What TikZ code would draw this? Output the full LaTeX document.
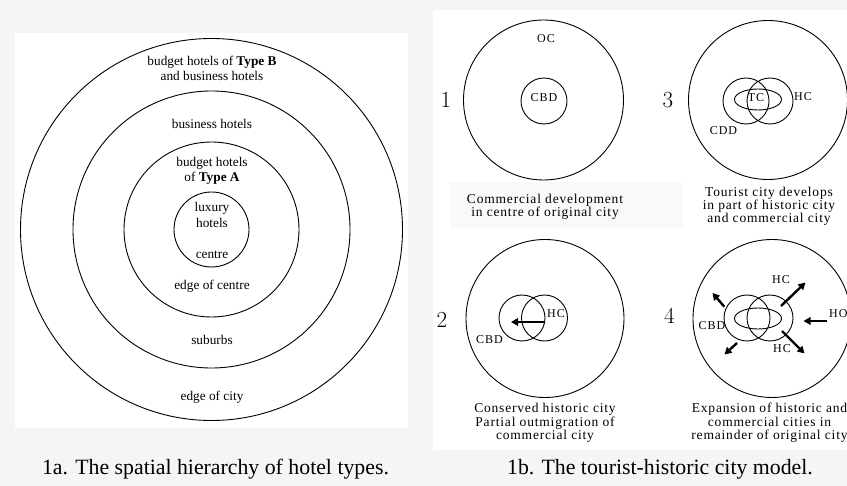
\documentclass[tikz,border=0pt]{standalone}
\usepackage{fontspec}
\usetikzlibrary{arrows.meta}
\newfontfamily\tnr{Liberation Serif}
\newfontfamily\tnrsp[LetterSpace=6]{Liberation Serif}
\newfontfamily\lblf[LetterSpace=8]{Liberation Serif}
\definecolor{bgg}{RGB}{245,245,245}
\definecolor{capg}{RGB}{249,249,249}
\begin{document}
\begin{tikzpicture}[x=1pt,y=-1pt,
  ring/.style={draw=black,line width=0.9pt},
  hlabel/.style={font=\tnr\fontsize{13.3}{15}\selectfont,anchor=base,inner sep=0pt},
  captext/.style={font=\tnrsp\fontsize{13.5}{15}\selectfont,anchor=base,inner sep=0pt},
  lbl/.style={font=\lblf\fontsize{12}{14}\selectfont,anchor=base,inner sep=0pt},
  num/.style={font=\fontsize{23}{25}\selectfont,anchor=base,inner sep=0pt},
  title/.style={font=\tnr\fontsize{21.8}{24}\selectfont,anchor=base,inner sep=0pt},
  flow/.style={line width=2.4pt,-{Triangle[length=7pt,width=7.5pt]}}]
\useasboundingbox (0,0) rectangle (847,486);
% backgrounds
\fill[bgg] (0,0) rectangle (847,486);
\fill[white] (15,33) rectangle (408,428);
\fill[white] (433,10) rectangle (847,450);
\fill[capg] (450,182) rectangle (683,228);

% ---------- 1a ----------
\coordinate (L) at (211.5,229.5);
\draw[ring] (L) circle[radius=191pt];
\draw[ring] (L) circle[radius=138.5pt];
\draw[ring] (L) circle[radius=87.5pt];
\draw[ring] (L) circle[radius=37.5pt];
\node[hlabel] (t1) at (212,65.7) {budget hotels of \textbf{Type B}};
\node[hlabel] (t2) at (212,80.7) {and business hotels};
\node[hlabel] (t3) at (212,128.3) {business hotels};
\node[hlabel] (t4) at (212,166.7) {budget hotels};
\node[hlabel] (t5) at (212,181.3) {of \textbf{Type A}};
\node[hlabel] (t6) at (212,212) {luxury};
\node[hlabel] (t7) at (212,227.3) {hotels};
\node[hlabel] (t8) at (212,258.3) {centre};
\node[hlabel] (t9) at (212,290) {edge of centre};
\node[hlabel] (t10) at (212,345) {suburbs};
\node[hlabel] (t11) at (212,400.7) {edge of city};
\node[title] (ta) at (215.5,475) {1a. The spatial hierarchy of hotel types.};

% ---------- 1b panel 1 ----------
\draw[ring] (543.5,100) circle[radius=80pt];
\draw[ring] (544,101) circle[radius=23pt];
\node[lbl] (oc1) at (546,42.7) {OC};
\node[lbl] (cbd1) at (544,102) {CBD};
\node[num] (n1) at (446,107.7) {1};
\node[captext] (c1a) at (545,204) {Commercial development};
\node[captext] (c1b) at (545,217) {in centre of original city};

% ---------- panel 3 ----------
\draw[ring] (768,100) circle[radius=79.5pt];
\draw[ring] (746,101) circle[radius=23pt];
\draw[ring] (770,101) circle[radius=23pt];
\draw[ring] (758,99.5) ellipse[x radius=23.5pt,y radius=10.5pt];
\node[lbl] (tc3) at (756,101.7) {TC};
\node[lbl] (hc3) at (803,101) {HC};
\node[lbl] (cdd3) at (723.5,135) {CDD};
\node[num] (n3) at (668,107.5) {3};
\node[captext] (c3a) at (769,197) {Tourist city develops};
\node[captext] (c3b) at (769,210) {in part of historic city};
\node[captext] (c3c) at (769,222.5) {and commercial city};

% ---------- panel 2 ----------
\draw[ring] (545,318.5) circle[radius=79pt];
\draw[ring] (522,318) circle[radius=23pt];
\draw[ring] (544.5,318) circle[radius=23pt];
\coordinate (a2s) at (545,322);
\coordinate (a2e) at (511,322);
\draw[flow] (a2s) -- (a2e);
\node[lbl] (hc2) at (556,317.7) {HC};
\node[lbl] (cbd2) at (489.5,344) {CBD};
\node[num] (n2) at (442,328) {2};
\node[captext] (c2a) at (545,413) {Conserved historic city};
\node[captext] (c2b) at (545,426.5) {Partial outmigration of};
\node[captext] (c2c) at (545,440) {commercial city};

% ---------- panel 4 ----------
\draw[ring] (772,318.5) circle[radius=79pt];
\draw[ring] (747,318) circle[radius=23pt];
\draw[ring] (770,318) circle[radius=23pt];
\draw[ring] (758,318.5) ellipse[x radius=23.5pt,y radius=10.5pt];
\coordinate (p1s) at (724.3,306.7); \coordinate (p1e) at (712.5,293);
\coordinate (p2s) at (781,306);    \coordinate (p2e) at (805.5,282.5);
\coordinate (p3s) at (827,321);    \coordinate (p3e) at (803.5,321);
\coordinate (p4s) at (737,343);    \coordinate (p4e) at (724.5,354.5);
\coordinate (p5s) at (782,331);    \coordinate (p5e) at (804.5,353.5);
\draw[flow] (p1s) -- (p1e);
\draw[flow] (p2s) -- (p2e);
\draw[flow] (p3s) -- (p3e);
\draw[flow] (p4s) -- (p4e);
\draw[flow] (p5s) -- (p5e);
\node[lbl] (hc4a) at (781,283.3) {HC};
\node[lbl] (hc4b) at (782,353) {HC};
\node[lbl,anchor=base west] (ho4) at (829,317.7) {HO};
\node[lbl] (cbd4) at (712,330) {CBD};
\node[num] (n4) at (669.5,324) {4};
\node[captext] (c4a) at (769.5,413) {Expansion of historic and};
\node[captext] (c4b) at (769.5,426.5) {commercial cities in};
\node[captext] (c4c) at (769.5,440) {remainder of original city};
\node[title] (tb) at (660,475) {1b. The tourist-historic city model.};
\end{tikzpicture}
\end{document}
